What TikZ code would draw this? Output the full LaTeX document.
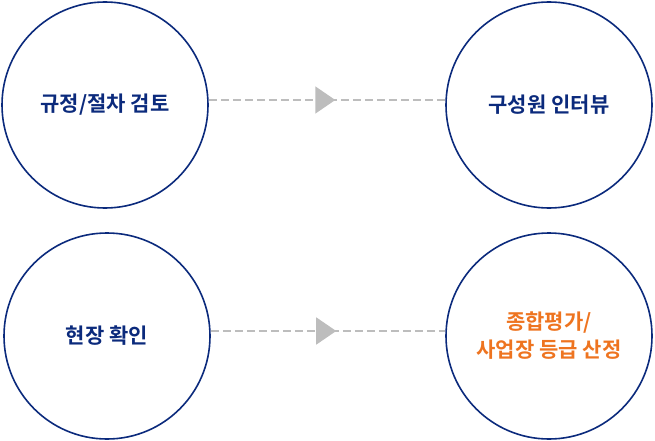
\documentclass[tikz,border=0pt]{standalone}
\usepackage{fontspec}
\setmainfont{Noto Sans CJK KR}[BoldFont={Noto Sans CJK KR Bold}]
\usetikzlibrary{arrows.meta,decorations.markings}
\definecolor{navy}{HTML}{0B2A7C}
\definecolor{orng}{HTML}{EE7420}
\definecolor{lgray}{HTML}{BDBDBD}
\tikzset{
  stage/.style={circle,draw=navy,line width=1.6pt,minimum size=206pt,inner sep=0pt,
    font=\bfseries\fontsize{21}{28}\selectfont,text=navy,align=center},
  flow/.style={draw=lgray,line width=1.6pt,dash pattern=on 8pt off 4pt,
    postaction={decorate},
    decoration={markings,mark=at position 0.535 with {\arrow[lgray]{Triangle[length=20pt,width=27pt]}}}}
}
\begin{document}
\begin{tikzpicture}[x=1pt,y=-1pt]
\useasboundingbox (0,0) rectangle (655,441);
\node[stage] (a) at (105,105) {규정/절차 검토};
\node[stage] (b) at (549,105) {구성원 인터뷰};
\node[stage] (c) at (107,336) {현장 확인};
\node[stage,text=orng] (d) at (549,336) {종합평가/\\사업장 등급 산정};
\path[flow] (a.east |- 0,100) -- (b.west |- 0,100);
\path[flow] (c.east |- 0,331) -- (d.west |- 0,331);
\end{tikzpicture}
\end{document}
